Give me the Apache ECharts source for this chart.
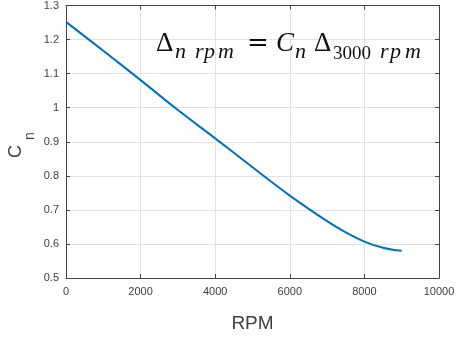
<!DOCTYPE html>
<html>
<head>
<meta charset="utf-8">
<script src="https://cdn.jsdelivr.net/npm/echarts@6/dist/echarts.min.js"></script>
<style>html,body{margin:0;padding:0;background:#fff}#c{width:458px;height:338px}</style>
</head>
<body>
<div id="c"></div>
<script>
// Data
const rpm = [0, 1000, 2000, 3000, 4000, 5000, 6000, 7000, 7500, 8000, 8500, 9000];
const cn  = [1.252, 1.167, 1.081, 0.993, 0.910, 0.825, 0.742, 0.667, 0.634, 0.607, 0.589, 0.580];
const xTicks = [0, 2000, 4000, 6000, 8000, 10000];
const yTicks = [0.5, 0.6, 0.7, 0.8, 0.9, 1, 1.1, 1.2, 1.3];

const axisColor = '#444';
const labelColor = '#404040';
const gridColor = '#e2e2e2';
const sans = 'Liberation Sans, Arial, sans-serif';
const serif = 'Liberation Serif, DejaVu Serif, serif';

const chart = echarts.init(document.getElementById('c'));

function baseX(extra) {
  return Object.assign({
    type: 'value', min: xTicks[0], max: xTicks[xTicks.length - 1], interval: xTicks[1] - xTicks[0],
    axisLine: {show: true, onZero: false, lineStyle: {color: axisColor, width: 1}},
    axisTick: {show: true, inside: true, length: 4, lineStyle: {color: axisColor}},
    splitLine: {show: false}
  }, extra);
}
function baseY(extra) {
  return Object.assign({
    type: 'value', min: yTicks[0], max: yTicks[yTicks.length - 1], interval: 0.1,
    axisLine: {show: true, onZero: false, lineStyle: {color: axisColor, width: 1}},
    axisTick: {show: true, inside: true, length: 4, lineStyle: {color: axisColor}},
    splitLine: {show: false}
  }, extra);
}

// annotation pieces: [text, left x, baseline y, size, italic, family]
const ann = [
  ['Δ', 156, 53, 27, false],
  ['n', 175, 59, 22, true], ['r', 195, 59, 22, true], ['p', 204, 59, 22, true], ['m', 218, 59, 22, true],
  ['=', 247, 53, 26, false, 'DejaVu Serif, serif'],
  ['C', 276, 53, 27, true],
  ['n', 295, 59, 22, true],
  ['Δ', 314, 53, 27, false],
  ['3000', 333, 60, 19, false],
  ['r', 380, 59, 22, true], ['p', 390, 59, 22, true], ['m', 405, 59, 22, true]
];
const graphics = ann.map(a => ({
  type: 'text', x: a[1], y: a[2] - 0.32 * a[3], z: 100,
  style: {text: a[0], fill: '#111', font: (a[4] ? 'italic ' : '') + a[3] + 'px ' + (a[5] || serif),
          textAlign: 'left', verticalAlign: 'middle'}
}));
graphics.push({type: 'text', x: 16.5, y: 151.5, rotation: Math.PI / 2, z: 100,
  style: {text: 'C', fill: labelColor, font: '18px ' + sans, textAlign: 'center', verticalAlign: 'middle'}});
graphics.push({type: 'text', x: 30.5, y: 136, rotation: Math.PI / 2, z: 100,
  style: {text: 'n', fill: labelColor, font: '14px ' + sans, textAlign: 'center', verticalAlign: 'middle'}});

chart.setOption({
  animation: false,
  backgroundColor: '#fff',
  grid: {left: 66, right: 19, top: 1, bottom: 49, show: false},
  xAxis: [
    baseX({position: 'bottom',
      axisLabel: {show: true, color: labelColor, fontSize: 11, fontFamily: sans, margin: 8,
        formatter: v => String(v)},
      splitLine: {show: true, lineStyle: {color: gridColor, width: 1}},
      name: 'RPM', nameLocation: 'middle', nameGap: 36,
      nameTextStyle: {color: labelColor, fontSize: 19, fontFamily: sans}}),
    baseX({position: 'top', axisLabel: {show: false}})
  ],
  yAxis: [
    baseY({position: 'left',
      axisLabel: {show: true, color: labelColor, fontSize: 11, fontFamily: sans, margin: 7,
        formatter: v => String(Number(v.toFixed(1)))},
      splitLine: {show: true, lineStyle: {color: gridColor, width: 1}}}),
    baseY({position: 'right', axisLabel: {show: false}})
  ],
  series: [{
    type: 'line', xAxisIndex: 0, yAxisIndex: 0,
    data: rpm.map((x, i) => [x, cn[i]]),
    smooth: 0.4, showSymbol: false, symbol: 'none',
    lineStyle: {color: '#0072BD', width: 2}
  }],
  graphic: graphics
});
</script>
</body>
</html>
